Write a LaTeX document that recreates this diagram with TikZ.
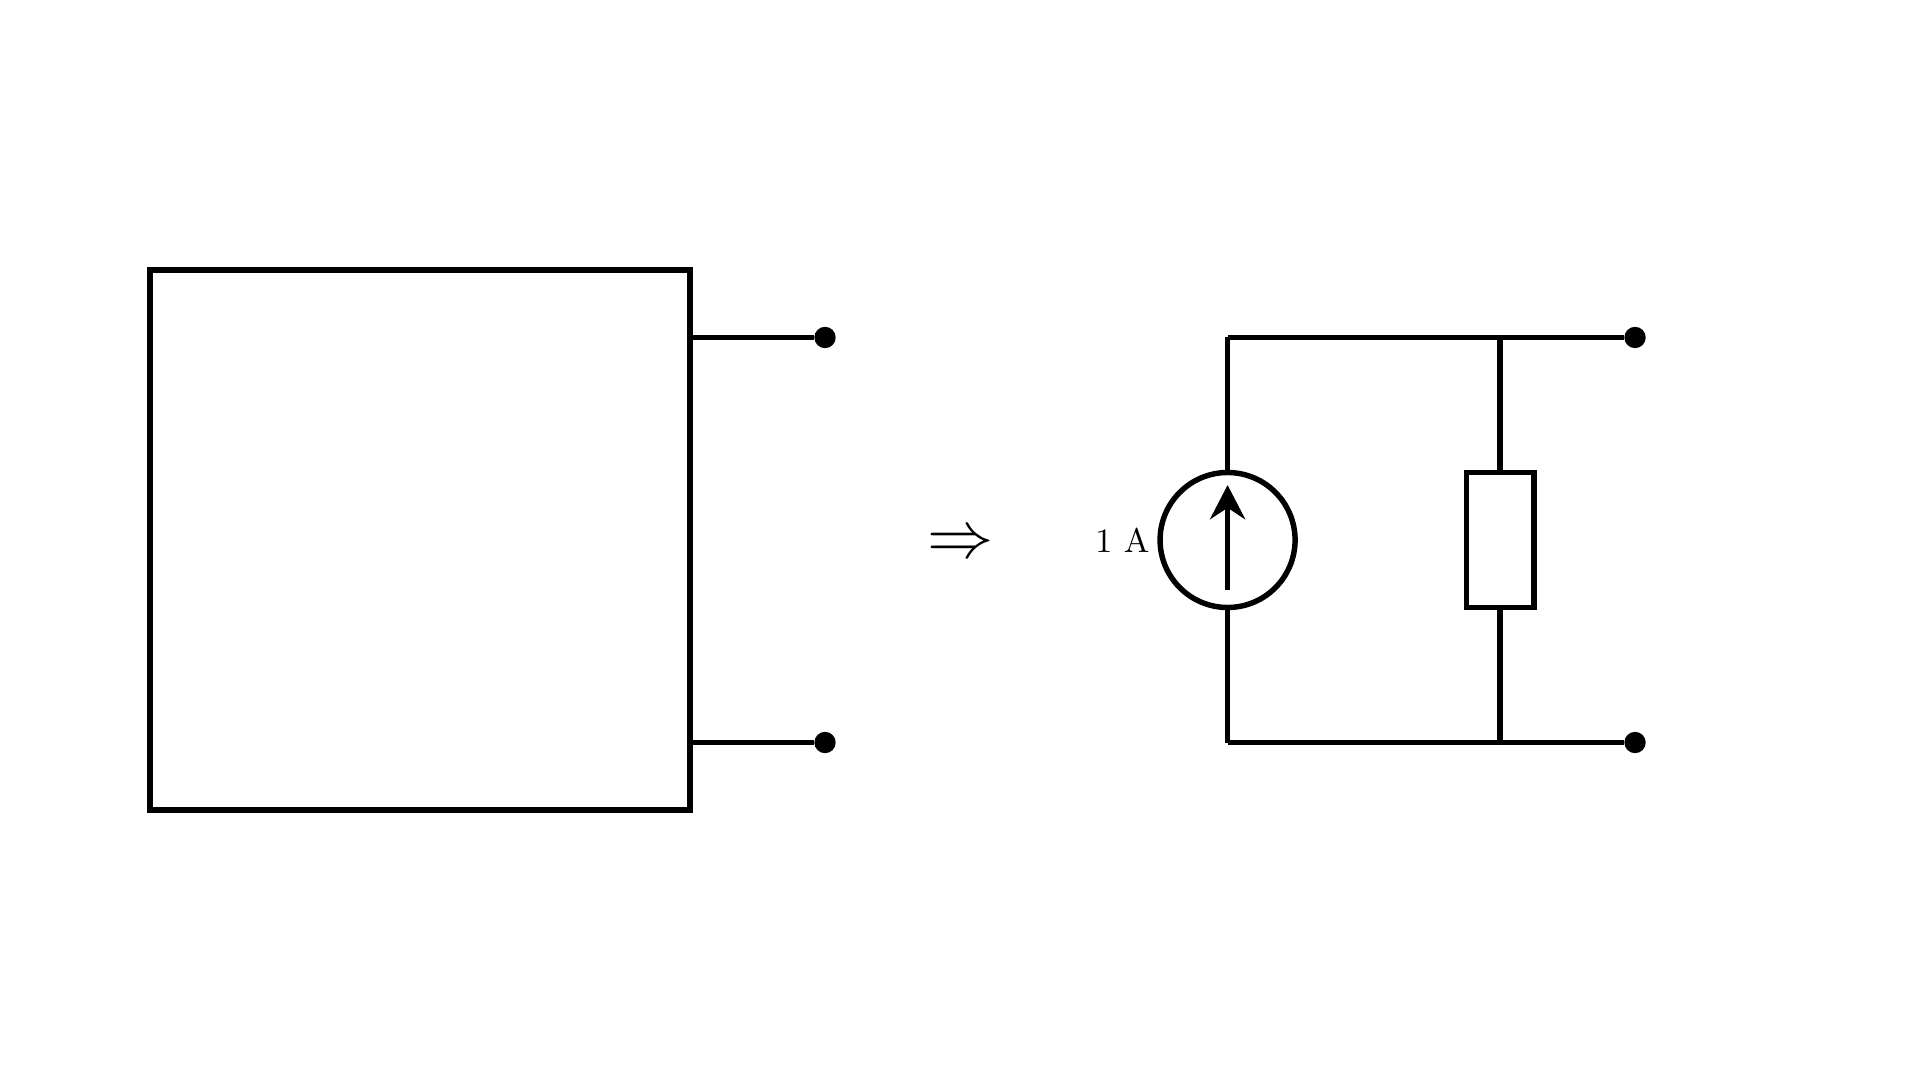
\documentclass[tikz,border=0pt]{standalone}
\usepackage{xcolor}
\usepackage{tikz}
\usetikzlibrary{arrows.meta}
\usetikzlibrary{positioning}

\begin{document}
\begin{tikzpicture}
    % 1 cm = 135 px of the reference
    \def\XBOX{1.111}
    \def\XSRC{9.093}
    \def\XRES{11.111}
    \def\XDOTONE{6.111}
    \def\XDOTTWO{12.111}
    \def\YMID{4}
    \def\YTOP{5.5}
    \def\YBOT{2.5}

    \tikzset{
      wire/.style={line width=1.15pt},
      part/.style={draw,line width=1.15pt,inner sep=0pt,outer sep=0pt},
      terminal/.style={circle,fill=black,inner sep=0pt,outer sep=0pt,minimum size=0.158cm},
    }

    \useasboundingbox (0,0) rectangle (14.222,8);

    % BLACK BOX
    \node[part,minimum width=4cm,minimum height=4cm] (box)
        at ({\XBOX+2},\YMID) {};
    \node[terminal] (dotA) at (\XDOTONE,\YTOP) {};
    \node[terminal] (dotB) at (\XDOTONE,\YBOT) {};
    \draw[wire] (box.east |- dotA) -- (dotA);
    \draw[wire] (box.east |- dotB) -- (dotB);

    % IMPLIES
    \node[scale=0.97] (implies) at (7.115,\YMID-0.04) {\Large$\Rightarrow$};

    % EQUIVALENT CIRCUIT
    \node[part,circle,minimum size=1cm] (src) at (\XSRC,\YMID) {};
    \node[part,minimum width=0.5cm,minimum height=1cm] (res) at (\XRES,\YMID) {};
    \node[draw=none,left=-0.3pt of src,scale=0.72,transform shape] (srclabel) {1 A};
    \node[terminal] (dotC) at (\XDOTTWO,\YTOP) {};
    \node[terminal] (dotD) at (\XDOTTWO,\YBOT) {};
    \coordinate (cornerA) at (src.north |- dotC);
    \coordinate (cornerB) at (src.south |- dotD);

    \draw[wire] (cornerA) -- (dotC);
    \draw[wire] (cornerB) -- (dotD);
    \draw[wire] (src.north) -- (cornerA);
    \draw[wire] (src.south) -- (cornerB);
    \draw[wire] (res.north) -- (res.north |- dotC);
    \draw[wire] (res.south) -- (res.south |- dotD);

    % source arrow
    \draw[wire,-{Stealth[length=7.2pt,width=7.4pt,inset=2.4pt]}]
        ([yshift=-0.37cm]src.center) -- ([yshift=0.407cm]src.center);
\end{tikzpicture}
\end{document}
